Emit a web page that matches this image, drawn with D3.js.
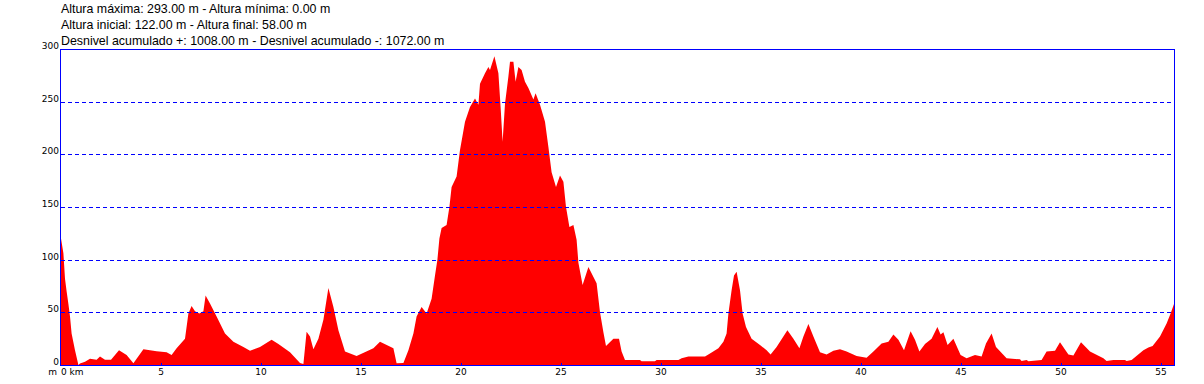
<!DOCTYPE html>
<html>
<head>
<meta charset="utf-8">
<script src="https://cdn.jsdelivr.net/npm/d3@7"></script>
<style>
  html, body { margin: 0; padding: 0; background: #fff; }
  svg { display: block; }
</style>
</head>
<body>
<svg id="chart" width="1204" height="384"></svg>
<script>
const headerLines = [
  "Altura máxima: 293.00 m - Altura mínima: 0.00 m",
  "Altura inicial: 122.00 m - Altura final: 58.00 m",
  "Desnivel acumulado +: 1008.00 m - Desnivel acumulado -: 1072.00 m"
];
const yTicks = [0, 50, 100, 150, 200, 250, 300];
const yGrid = [50, 100, 150, 200, 250];
const xTicks = [0, 5, 10, 15, 20, 25, 30, 35, 40, 45, 50, 55];
const totalKm = 55.65;

const distKm = [
  0, 0.12, 0.2, 0.28, 0.37, 0.45, 0.53, 0.7, 0.87, 0.95, 1.2, 1.45, 1.78, 1.95, 2.2, 2.5, 2.9, 3.28, 3.62, 4.12,
  4.78, 5.28, 5.53, 5.78, 6.2, 6.37, 6.53, 6.7, 6.92, 7.12, 7.23, 7.45, 7.78, 8.2, 8.62, 9.12, 9.45, 9.95, 10.53, 10.87,
  11.45, 11.95, 12.12, 12.28, 12.45, 12.62, 12.87, 13.12, 13.37, 13.62, 13.87, 14.2, 14.78, 15.62, 15.95, 16.62, 16.78, 17.12, 17.37, 17.62,
  17.78, 18.03, 18.28, 18.53, 18.7, 18.82, 18.92, 19.03, 19.28, 19.42, 19.53, 19.78, 19.95, 20.2, 20.45, 20.7, 20.87, 20.95, 21.2, 21.37,
  21.45, 21.67, 21.87, 21.98, 22.08, 22.2, 22.37, 22.45, 22.62, 22.73, 22.87, 23.03, 23.2, 23.37, 23.62, 23.73, 23.95, 24.2, 24.37, 24.53,
  24.75, 24.95, 25.12, 25.25, 25.42, 25.62, 25.78, 25.87, 26.08, 26.37, 26.78, 26.95, 27.12, 27.25, 27.62, 27.9, 28.03, 28.2, 28.95, 29.03,
  29.7, 29.78, 30.87, 31.03, 31.37, 32.2, 32.45, 32.87, 33.12, 33.28, 33.37, 33.53, 33.65, 33.78, 33.95, 34.08, 34.25, 34.53, 34.95, 35.28,
  35.48, 35.78, 36.32, 36.62, 36.92, 37.12, 37.37, 37.62, 37.95, 38.28, 38.62, 38.95, 39.28, 39.78, 40.28, 40.62, 41.03, 41.37, 41.62, 41.87,
  42.15, 42.48, 42.7, 42.92, 43.2, 43.53, 43.82, 43.98, 44.12, 44.33, 44.62, 44.98, 45.28, 45.7, 46.03, 46.25, 46.53, 46.75, 47.28, 47.95,
  48.03, 48.28, 48.37, 49.03, 49.28, 49.7, 49.95, 50.37, 50.62, 51.0, 51.45, 52.12, 52.28, 52.62, 53.2, 53.28, 53.53, 54.12, 54.37, 54.58,
  54.95, 55.28, 55.48, 55.65
];
const elevM = [
  120, 106, 82, 70, 58, 46, 30, 14, 0, 1.5, 3, 6, 5, 8, 5, 5, 14, 9.5, 1.6, 15,
  13, 12, 9.5, 16, 25, 49, 56, 51, 49, 51, 66, 58.5, 46, 30, 22, 17, 13.6, 17, 24, 20,
  12, 2, 1, 31.6, 27, 15, 25, 43, 73, 55, 33, 12.7, 8.5, 16, 22, 16, 1.6, 2, 14, 30,
  46, 55, 49, 63, 85, 100, 120, 130, 133, 150, 169, 179, 204, 231, 245, 253, 247, 267, 277, 283,
  280, 293, 277, 245, 212, 248, 274, 288, 288, 269, 283, 280, 269, 263, 252, 258, 247, 231, 207, 183,
  169, 180, 174, 150, 131, 133, 119, 97, 76, 93, 77.5, 50, 31, 18, 25, 25, 12.7, 4.7, 4.7, 3.5,
  3.5, 4.7, 4.7, 6.3, 8, 8, 11, 16, 22, 30, 49, 71, 85, 88.6, 71, 49, 36, 25, 19, 14,
  10, 17, 33, 25, 16, 27, 39, 27, 12, 10, 13.6, 15, 12.7, 8.5, 7, 12.7, 20.5, 22, 29, 24,
  14, 32, 24, 12.7, 20, 25, 36, 29, 31, 19, 25, 9.5, 6.3, 9.5, 8, 20.5, 30, 17, 6.3, 5.4,
  3.8, 4.7, 3.5, 4.7, 12.7, 13.6, 21.5, 10, 9, 21.5, 12.7, 6.3, 3.8, 4.7, 4.7, 3.8, 4.7, 14, 16.5, 18,
  27, 39.5, 49, 58
];

const data = distKm.map((d, i) => ({ km: d, m: elevM[i] }));

const svg = d3.select("#chart");
const plotL = 61, plotR = 1174, plotT = 49, plotB = 365;
const blue = "#0000ff";

const x = d3.scaleLinear().domain([0, totalKm]).range([plotL, plotR]);
const y = d3.scaleLinear().domain([0, 300]).range([plotB, plotT]);

// header
svg.append("g").selectAll("text").data(headerLines).join("text")
  .attr("x", 61)
  .attr("y", (d, i) => 13 + i * 16)
  .attr("font-family", "Liberation Sans, Arial, sans-serif")
  .attr("font-size", 12.4)
  .attr("fill", "#000")
  .text(d => d);

// area
const area = d3.area()
  .x(d => x(d.km))
  .y0(y(0))
  .y1(d => y(d.m))
  .curve(d3.curveLinear);

svg.append("path")
  .datum(data)
  .attr("d", area)
  .attr("fill", "#ff0000");

// gridlines
svg.append("g").selectAll("line").data(yGrid).join("line")
  .attr("x1", plotL).attr("x2", plotR)
  .attr("y1", d => Math.round(y(d)) + 0.5)
  .attr("y2", d => Math.round(y(d)) + 0.5)
  .attr("stroke", blue)
  .attr("stroke-width", 1)
  .attr("stroke-dasharray", "4,3");

// frame
svg.append("rect")
  .attr("x", plotL - 0.5)
  .attr("y", plotT + 0.5)
  .attr("width", plotR - plotL + 1)
  .attr("height", plotB - plotT)
  .attr("fill", "none")
  .attr("stroke", blue)
  .attr("stroke-width", 1);

// x ticks
svg.append("g").selectAll("line").data(xTicks.slice(1)).join("line")
  .attr("x1", d => Math.round(x(d)) + 0.5)
  .attr("x2", d => Math.round(x(d)) + 0.5)
  .attr("y1", plotB - 2)
  .attr("y2", plotB + 1)
  .attr("stroke", blue);

// y labels
svg.append("g").selectAll("text").data(yTicks).join("text")
  .attr("x", 59)
  .attr("y", d => Math.round(y(d)))
  .attr("text-anchor", "end")
  .attr("font-family", "DejaVu Sans, sans-serif")
  .attr("font-size", 9)
  .attr("fill", "#000")
  .text(d => d);

// x labels
svg.append("g").selectAll("text").data(xTicks).join("text")
  .attr("x", d => x(d))
  .attr("y", 375)
  .attr("text-anchor", d => d === 0 ? "start" : "middle")
  .attr("font-family", "DejaVu Sans, sans-serif")
  .attr("font-size", 9)
  .attr("fill", "#000")
  .text(d => d === 0 ? "0 km" : d);

svg.append("text")
  .attr("x", 57)
  .attr("y", 375)
  .attr("text-anchor", "end")
  .attr("font-family", "DejaVu Sans, sans-serif")
  .attr("font-size", 9)
  .attr("fill", "#000")
  .text("m");
</script>
</body>
</html>
